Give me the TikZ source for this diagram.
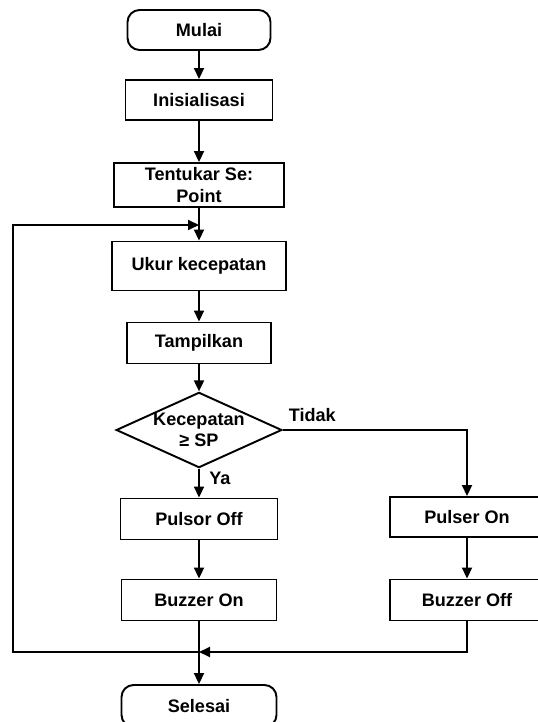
\documentclass[tikz,border=0pt]{standalone}
\usepackage{fontspec}
\setmainfont{Liberation Sans}
\usetikzlibrary{arrows.meta,shapes.geometric}

\begin{document}
\begin{tikzpicture}[x=0.02cm,y=-0.02cm,>={Triangle[length=2.2mm,width=2mm]},
line width=1.1pt,font=\bfseries\fontsize{10.3}{12}\selectfont,
proses/.style={draw,rectangle,minimum width=3.1cm,minimum height=0.82cm,align=center,inner sep=2pt},
terminal/.style={draw,rounded corners=0.24cm,minimum width=3.1cm,minimum height=0.84cm},
keputusan/.style={draw,diamond,aspect=2.2,inner sep=0pt,minimum width=3.26cm,minimum height=1.5cm,align=center}]
\useasboundingbox(0,0)rectangle(537,722);
% jalur utama
\node[terminal,minimum width=2.86cm,minimum height=0.8cm](mulai)at(199,30){Mulai};
\node[proses,minimum width=2.94cm,minimum height=0.8cm](init)at(199,100){Inisialisasi};
\node[proses,minimum width=3.4cm,minimum height=0.88cm](tentu)at(199,185){Tentukar Se:\\Point};
\node[proses,minimum width=3.48cm,minimum height=0.98cm](ukur)at(199,266){Ukur kecepatan};
\node[proses,minimum width=2.88cm](tampil)at(199,343){Tampilkan};
\node[keputusan](cek)at(199,430){Kecepatan\\≥ SP};
\node[proses,minimum width=3.14cm](pulsor)at(199,519){Pulsor Off};
\node[proses](buzon)at(199,600){Buzzer On};
\node[terminal](selesai)at(199,706){Selesai};
% cabang kanan
\node[proses,minimum width=3.08cm,minimum height=0.8cm](pulser)at(467,517){Pulser On};
\node[proses,minimum width=3.08cm](buzoff)at(467,600){Buzzer Off};
\coordinate(jt)at(199,225);
\coordinate(jn)at(199,652);
\coordinate(kiri)at(13,652);

\draw[->](mulai)--(init);
\draw[->](init)--(tentu);
\draw[->](tentu)--(ukur);
\draw[->](ukur)--(tampil);
\draw[->](tampil)--(cek);
\draw[->](cek)--(pulsor)node[pos=0.35,right=2pt]{Ya};
\draw[->](cek.east)-|(pulser)node[pos=0.08,above=1pt]{Tidak};
\draw[->](pulsor)--(buzon);
\draw[->](pulser)--(buzoff);
\draw[->](buzon)--(selesai);
\draw[->](buzoff)|-(jn);
\draw[->](jn)--(kiri)|-(jt);
\end{tikzpicture}
\end{document}
